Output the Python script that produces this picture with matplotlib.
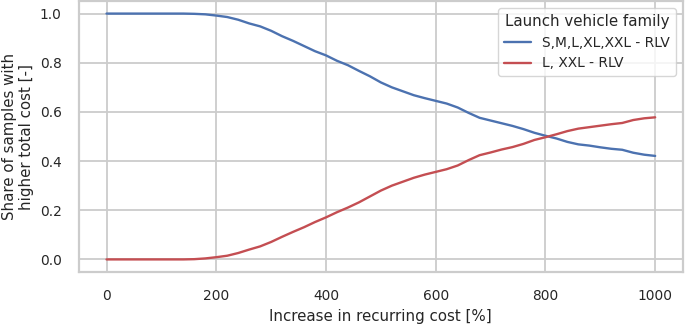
import numpy as np
import matplotlib
matplotlib.use("Agg")
import matplotlib.pyplot as plt
import seaborn as sns

# increase in recurring cost [%]
cost_increase = np.arange(0, 1001, 20)

# share of samples with higher total cost
share_all = [1.0, 1.0, 1.0, 1.0, 1.0, 1.0, 1.0, 1.0, 0.999, 0.997,
             0.992, 0.986, 0.975, 0.960, 0.948, 0.930, 0.908, 0.889, 0.868, 0.847,
             0.830, 0.808, 0.790, 0.767, 0.745, 0.720, 0.700, 0.684, 0.668, 0.656,
             0.645, 0.634, 0.618, 0.596, 0.576, 0.565, 0.554, 0.543, 0.530, 0.515,
             0.503, 0.492, 0.478, 0.468, 0.463, 0.456, 0.450, 0.446, 0.434, 0.426,
             0.421]
share_l_xxl = [0.0, 0.0, 0.0, 0.0, 0.0, 0.0, 0.0, 0.0, 0.001, 0.004,
               0.009, 0.015, 0.026, 0.040, 0.053, 0.071, 0.092, 0.112, 0.131, 0.152,
               0.171, 0.192, 0.211, 0.232, 0.256, 0.280, 0.300, 0.316, 0.332, 0.345,
               0.356, 0.367, 0.382, 0.404, 0.424, 0.435, 0.447, 0.457, 0.470, 0.486,
               0.497, 0.509, 0.522, 0.532, 0.538, 0.544, 0.550, 0.555, 0.567, 0.574,
               0.578]

sns.set_theme(style="whitegrid", font_scale=0.9)
plt.rcParams["grid.linewidth"] = 1.3
plt.rcParams["axes.linewidth"] = 1.6

fig = plt.figure(figsize=(6.85, 3.25), dpi=100)
ax = fig.add_axes([0.1155, 0.164, 0.881, 0.832])

ax.plot(cost_increase, share_all, color="#4c72b0", linewidth=1.7, label="S,M,L,XL,XXL - RLV")
ax.plot(cost_increase, share_l_xxl, color="#c44e52", linewidth=1.7, label="L, XXL - RLV")

ax.set_xlabel("Increase in recurring cost [%]")
ax.set_ylabel("Share of samples with\nhigher total cost [-]")
ax.set_xticks([0, 200, 400, 600, 800, 1000])
ax.set_yticks([0.0, 0.2, 0.4, 0.6, 0.8, 1.0])
ax.tick_params(axis="both", pad=6.5)

ax.legend(title="Launch vehicle family", loc="upper right")

fig.savefig("out.png", dpi=100)
